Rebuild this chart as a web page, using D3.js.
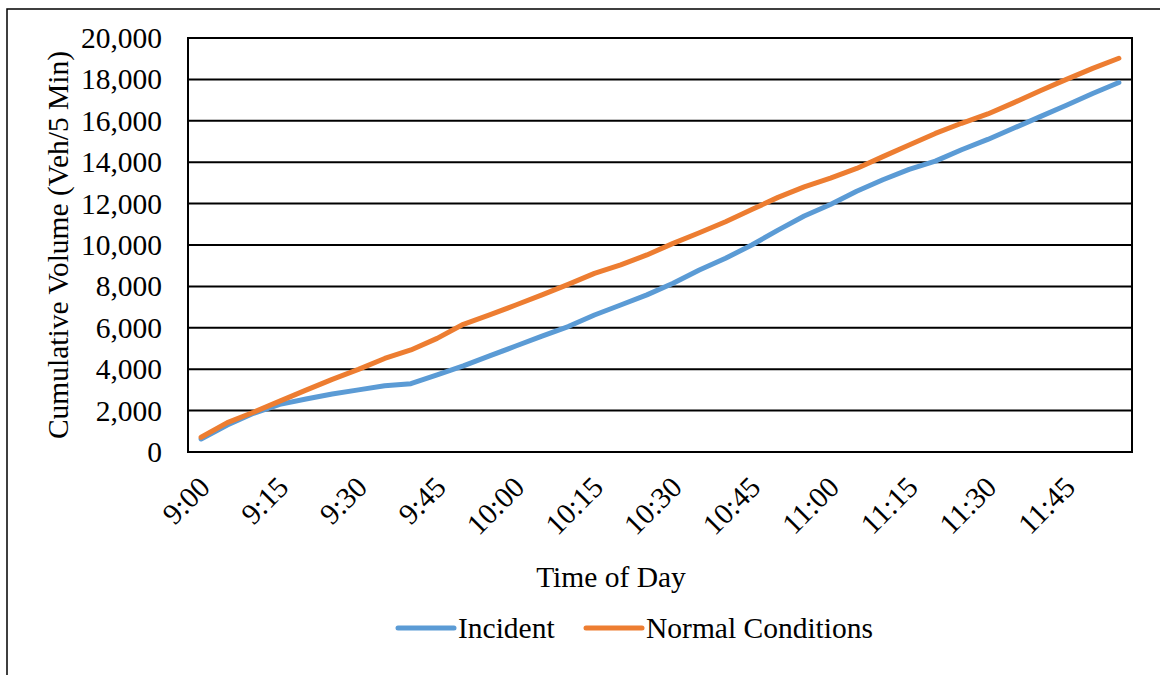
<!DOCTYPE html>
<html>
<head>
<meta charset="utf-8">
<script src="https://cdn.jsdelivr.net/npm/d3@7"></script>
<style>
  html, body { margin: 0; padding: 0; background: #fff; }
  svg { display: block; }
  text { font-family: "Liberation Serif", "Times New Roman", serif; fill: #000; }
</style>
</head>
<body>
<svg id="chart" width="1160" height="675"></svg>
<script>
// Categories: 5-minute intervals from 9:00 to 11:55
const times = ["9:00","9:05","9:10","9:15","9:20","9:25","9:30","9:35","9:40","9:45","9:50","9:55",
  "10:00","10:05","10:10","10:15","10:20","10:25","10:30","10:35","10:40","10:45","10:50","10:55",
  "11:00","11:05","11:10","11:15","11:20","11:25","11:30","11:35","11:40","11:45","11:50","11:55"];
const tickLabels = ["9:00","9:15","9:30","9:45","10:00","10:15","10:30","10:45","11:00","11:15","11:30","11:45"];
const incident = [630,1300,1870,2300,2560,2800,3000,3200,3300,3720,4160,4640,
  5120,5600,6060,6620,7100,7590,8150,8790,9360,10000,10720,11400,
  11960,12600,13150,13650,14050,14600,15100,15650,16200,16750,17320,17850];
const normal = [710,1420,1920,2460,2990,3510,3990,4520,4930,5490,6170,6620,
  7100,7590,8100,8630,9040,9520,10080,10590,11120,11710,12300,12810,
  13230,13700,14270,14830,15390,15880,16330,16880,17450,18000,18530,19020];
const yTicks = [0,2000,4000,6000,8000,10000,12000,14000,16000,18000,20000];
const seriesNames = ["Incident", "Normal Conditions"];
const seriesColors = ["#5B9BD5", "#ED7D31"];

const svg = d3.select("#chart");
const plot = {left: 188, right: 1132, top: 38, bottom: 452};
const FS = 29.5;

// outer frame
svg.append("rect").attr("x", 7).attr("y", 9).attr("width", 1300).attr("height", 800)
  .attr("fill", "none").attr("stroke", "#000").attr("stroke-width", 1.5);

const x = d3.scalePoint().domain(times).range([plot.left, plot.right]).padding(0.5);
const y = d3.scaleLinear().domain([0, 20000]).range([plot.bottom, plot.top]);

// gridlines
svg.append("g").selectAll("line").data(yTicks).join("line")
  .attr("x1", plot.left).attr("x2", plot.right)
  .attr("y1", d => y(d)).attr("y2", d => y(d))
  .attr("stroke", "#000").attr("stroke-width", 2);

// plot border
svg.append("rect").attr("x", plot.left).attr("y", plot.top)
  .attr("width", plot.right - plot.left).attr("height", plot.bottom - plot.top)
  .attr("fill", "none").attr("stroke", "#000").attr("stroke-width", 2);

// y axis labels
const yAxis = d3.axisLeft(y).tickValues(yTicks).tickSize(0).tickPadding(26)
  .tickFormat(d3.format(","));
const yg = svg.append("g").attr("transform", `translate(${plot.left},0)`).call(yAxis);
yg.select(".domain").remove();
yg.selectAll("text").style("font-size", FS + "px").style("font-family", "Liberation Serif");

// x axis labels (rotated)
const xAxis = d3.axisBottom(x).tickValues(tickLabels).tickSize(0).tickPadding(0);
const xg = svg.append("g").attr("transform", `translate(0,${plot.bottom})`).call(xAxis);
xg.select(".domain").remove();
xg.selectAll("text")
  .style("font-size", FS + "px").style("font-family", "Liberation Serif")
  .attr("text-anchor", "end")
  .attr("dy", null).attr("y", null)
  .attr("transform", "translate(10,37) rotate(-45)");

// lines
const line = d3.line().x((d, i) => x(times[i])).y(d => y(d));
[incident, normal].forEach((s, k) => {
  svg.append("path").datum(s).attr("d", line)
    .attr("fill", "none").attr("stroke", seriesColors[k]).attr("stroke-width", 5)
    .attr("stroke-linecap", "round").attr("stroke-linejoin", "round");
});

// axis titles
svg.append("text").attr("transform", `translate(68,${(plot.top + plot.bottom) / 2}) rotate(-90)`)
  .attr("text-anchor", "middle").style("font-size", FS + "px")
  .text("Cumulative Volume (Veh/5 Min)");
svg.append("text").attr("x", 611).attr("y", 587).attr("text-anchor", "middle")
  .style("font-size", FS + "px").text("Time of Day");

// legend
const legendX = [398, 586];
seriesNames.forEach((n, k) => {
  const g = svg.append("g");
  g.append("line").attr("x1", legendX[k]).attr("x2", legendX[k] + 56)
    .attr("y1", 628).attr("y2", 628)
    .attr("stroke", seriesColors[k]).attr("stroke-width", 5).attr("stroke-linecap", "round");
  g.append("text").attr("x", legendX[k] + 60).attr("y", 638)
    .style("font-size", FS + "px").text(n);
});
</script>
</body>
</html>
